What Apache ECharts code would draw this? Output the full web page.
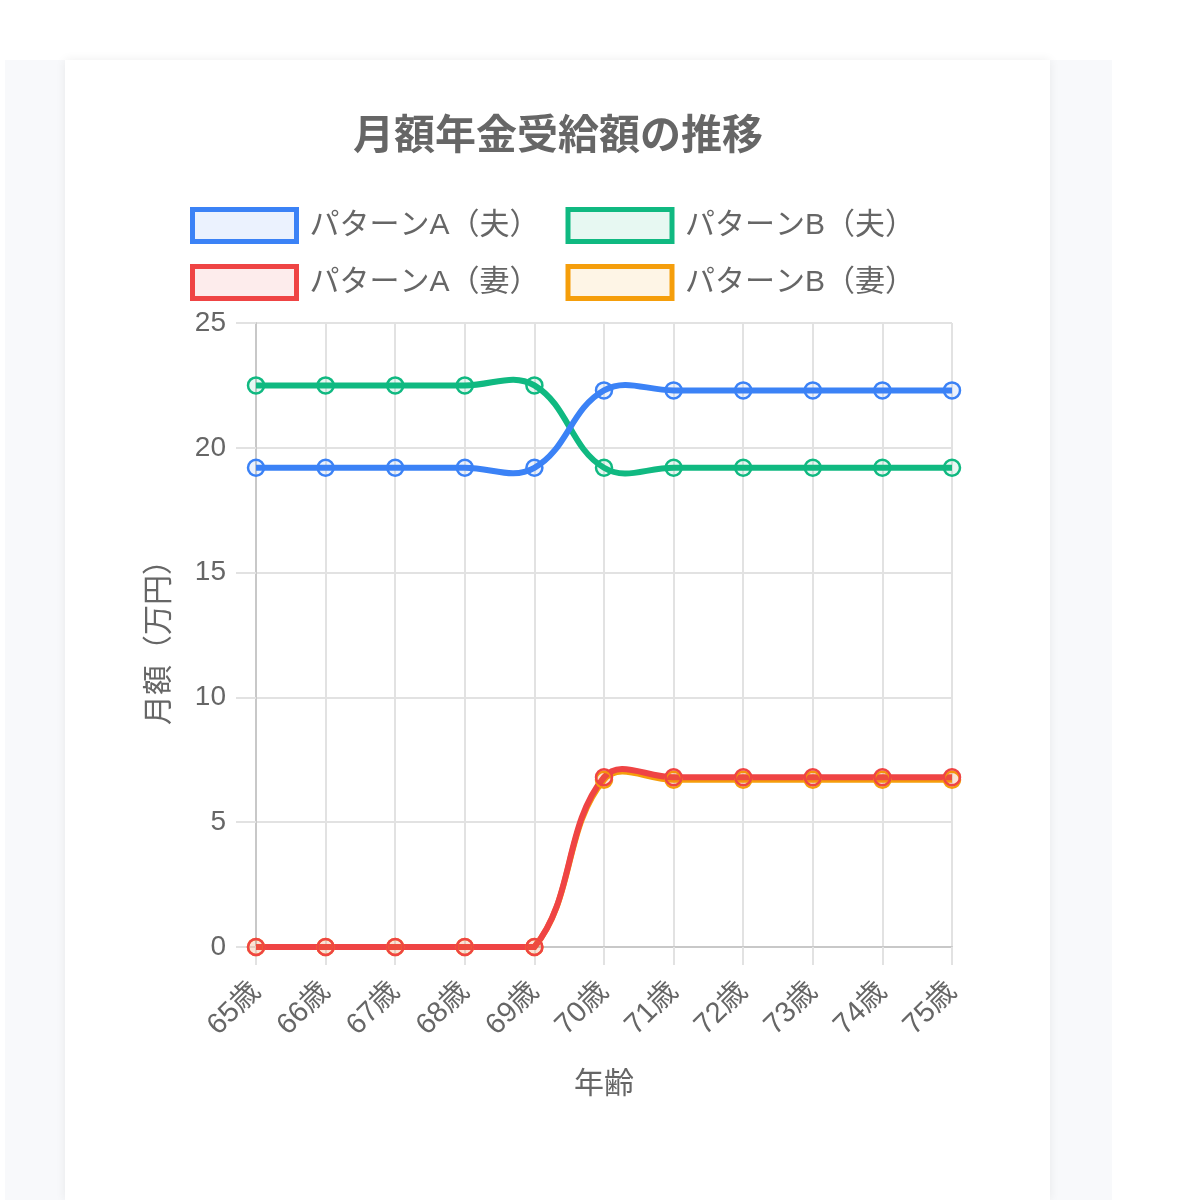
<!DOCTYPE html>
<html>
<head>
<meta charset="utf-8">
<script src="https://cdn.jsdelivr.net/npm/echarts@6.0.0/dist/echarts.min.js"></script>
<style>
  html, body { margin: 0; padding: 0; background: #fff; }
  #page { position: absolute; left: 5px; top: 60px; width: 1107px; height: 1140px; background: #f8f9fb; }
  #card { position: absolute; left: 65px; top: 60px; width: 985px; height: 1140px; background: #fff;
          box-shadow: 0 0 10px rgba(0,0,0,0.07); }
  #chart { position: absolute; left: 0; top: 0; width: 1200px; height: 1200px; }
</style>
</head>
<body>
<div id="page"></div>
<div id="card"></div>
<div id="chart"></div>
<script>
const ages = ['65歳', '66歳', '67歳', '68歳', '69歳', '70歳', '71歳', '72歳', '73歳', '74歳', '75歳'];
const patternAHusband = [19.2, 19.2, 19.2, 19.2, 19.2, 22.3, 22.3, 22.3, 22.3, 22.3, 22.3];
const patternBHusband = [22.5, 22.5, 22.5, 22.5, 22.5, 19.2, 19.2, 19.2, 19.2, 19.2, 19.2];
const patternAWife = [0, 0, 0, 0, 0, 6.8, 6.8, 6.8, 6.8, 6.8, 6.8];
const patternBWife = [0, 0, 0, 0, 0, 6.7, 6.7, 6.7, 6.7, 6.7, 6.7];

const yMin = 0;
const yMax = 25;
const yStep = 5;

const font = '"Liberation Sans", "Noto Sans CJK JP", sans-serif';
const textColor = '#666';
const tension = 0.4;

const seriesDefs = [
  { name: 'パターンA（夫）', data: patternAHusband, color: '#3b82f6', fill: 'rgba(59,130,246,0.1)' },
  { name: 'パターンB（夫）', data: patternBHusband, color: '#10b981', fill: 'rgba(16,185,129,0.1)' },
  { name: 'パターンA（妻）', data: patternAWife, color: '#ef4444', fill: 'rgba(239,68,68,0.1)' },
  { name: 'パターンB（妻）', data: patternBWife, color: '#f59e0b', fill: 'rgba(245,158,11,0.1)' }
];

function legendItem(s) {
  return { name: s.name, itemStyle: { color: s.fill, borderColor: s.color, borderWidth: 5 } };
}

function legendRow(top, items) {
  return {
    top: top,
    left: 190,
    padding: 0,
    icon: 'rect',
    itemWidth: 104,
    itemHeight: 32,
    itemGap: 26,
    textStyle: { color: textColor, fontSize: 30, fontFamily: font, padding: [0, 0, 0, 8] },
    data: items.map(legendItem)
  };
}

// tension-based cubic spline, control points kept inside the plot area
function splinePath(pts, area) {
  const clamp = (v, a, b) => Math.max(a, Math.min(b, v));
  const cap = q => [clamp(q[0], area.x0, area.x1), clamp(q[1], area.y0, area.y1)];
  const cps = pts.map((p, i) => {
    const prev = pts[Math.max(i - 1, 0)];
    const next = pts[Math.min(i + 1, pts.length - 1)];
    const d01 = Math.hypot(p[0] - prev[0], p[1] - prev[1]);
    const d12 = Math.hypot(next[0] - p[0], next[1] - p[1]);
    let s01 = d01 / (d01 + d12);
    let s12 = d12 / (d01 + d12);
    if (isNaN(s01)) s01 = 0;
    if (isNaN(s12)) s12 = 0;
    const fa = tension * s01;
    const fb = tension * s12;
    return {
      prev: cap([p[0] - fa * (next[0] - prev[0]), p[1] - fa * (next[1] - prev[1])]),
      next: cap([p[0] + fb * (next[0] - prev[0]), p[1] + fb * (next[1] - prev[1])])
    };
  });
  let d = 'M' + pts[0][0] + ' ' + pts[0][1];
  for (let i = 1; i < pts.length; i++) {
    const a = cps[i - 1].next;
    const b = cps[i].prev;
    d += ' C' + a[0] + ' ' + a[1] + ' ' + b[0] + ' ' + b[1] + ' ' + pts[i][0] + ' ' + pts[i][1];
  }
  return d;
}

const chart = echarts.init(document.getElementById('chart'));

// first dataset drawn on top, so reverse the draw order
const series = [];
seriesDefs.slice().reverse().forEach(s => {
  series.push({
    name: s.name,
    type: 'custom',
    data: s.data.map((v, i) => [i, v]),
    renderItem: function (params, api) {
      if (params.dataIndex !== 0) return null;
      const pts = s.data.map((v, i) => api.coord([i, v]));
      const lo = api.coord([0, yMin]);
      const hi = api.coord([ages.length - 1, yMax]);
      const area = { x0: lo[0], x1: hi[0], y0: hi[1], y1: lo[1] };
      return {
        type: 'path',
        shape: { pathData: splinePath(pts, area) },
        style: { fill: 'none', stroke: s.color, lineWidth: 6 }
      };
    },
    silent: true
  });
  series.push({
    name: s.name,
    type: 'line',
    data: s.data,
    symbol: 'circle',
    symbolSize: 16,
    lineStyle: { opacity: 0 },
    itemStyle: { color: s.fill, borderColor: s.color, borderWidth: 2.5 },
    emphasis: { disabled: true }
  });
});

chart.setOption({
  animation: false,
  backgroundColor: 'transparent',
  title: {
    text: '月額年金受給額の推移',
    left: 553,
    textAlign: 'center',
    top: 108,
    textStyle: { color: textColor, fontSize: 41, fontWeight: 'bold', fontFamily: '"Noto Sans CJK JP", sans-serif' }
  },
  legend: [
    legendRow(207, [seriesDefs[0], seriesDefs[1]]),
    legendRow(264, [seriesDefs[2], seriesDefs[3]])
  ],
  grid: { left: 256, right: 248, top: 323, bottom: 253 },
  xAxis: {
    type: 'category',
    data: ages,
    boundaryGap: false,
    name: '年齢',
    nameLocation: 'middle',
    nameGap: 123,
    nameTextStyle: { color: textColor, fontSize: 30, fontFamily: font },
    axisLine: { lineStyle: { color: '#c8c8c8', width: 2 } },
    axisTick: { show: true, length: 18, lineStyle: { color: '#e2e2e2', width: 2 } },
    splitLine: { show: true, lineStyle: { color: '#e2e2e2', width: 2 } },
    axisLabel: { rotate: 45, margin: 40, color: textColor, fontSize: 29, fontFamily: font, interval: 0 }
  },
  yAxis: {
    type: 'value',
    min: yMin,
    max: yMax,
    interval: yStep,
    name: '月額（万円）',
    nameLocation: 'middle',
    nameGap: 81,
    nameRotate: 90,
    nameTextStyle: { color: textColor, fontSize: 30, fontFamily: font },
    axisLine: { show: true, lineStyle: { color: '#c8c8c8', width: 2 } },
    axisTick: { show: true, length: 20, lineStyle: { color: '#e2e2e2', width: 2 } },
    splitLine: { show: true, lineStyle: { color: '#e2e2e2', width: 2 } },
    axisLabel: { margin: 30, color: textColor, fontSize: 28, fontFamily: font }
  },
  series: series
});
</script>
</body>
</html>
